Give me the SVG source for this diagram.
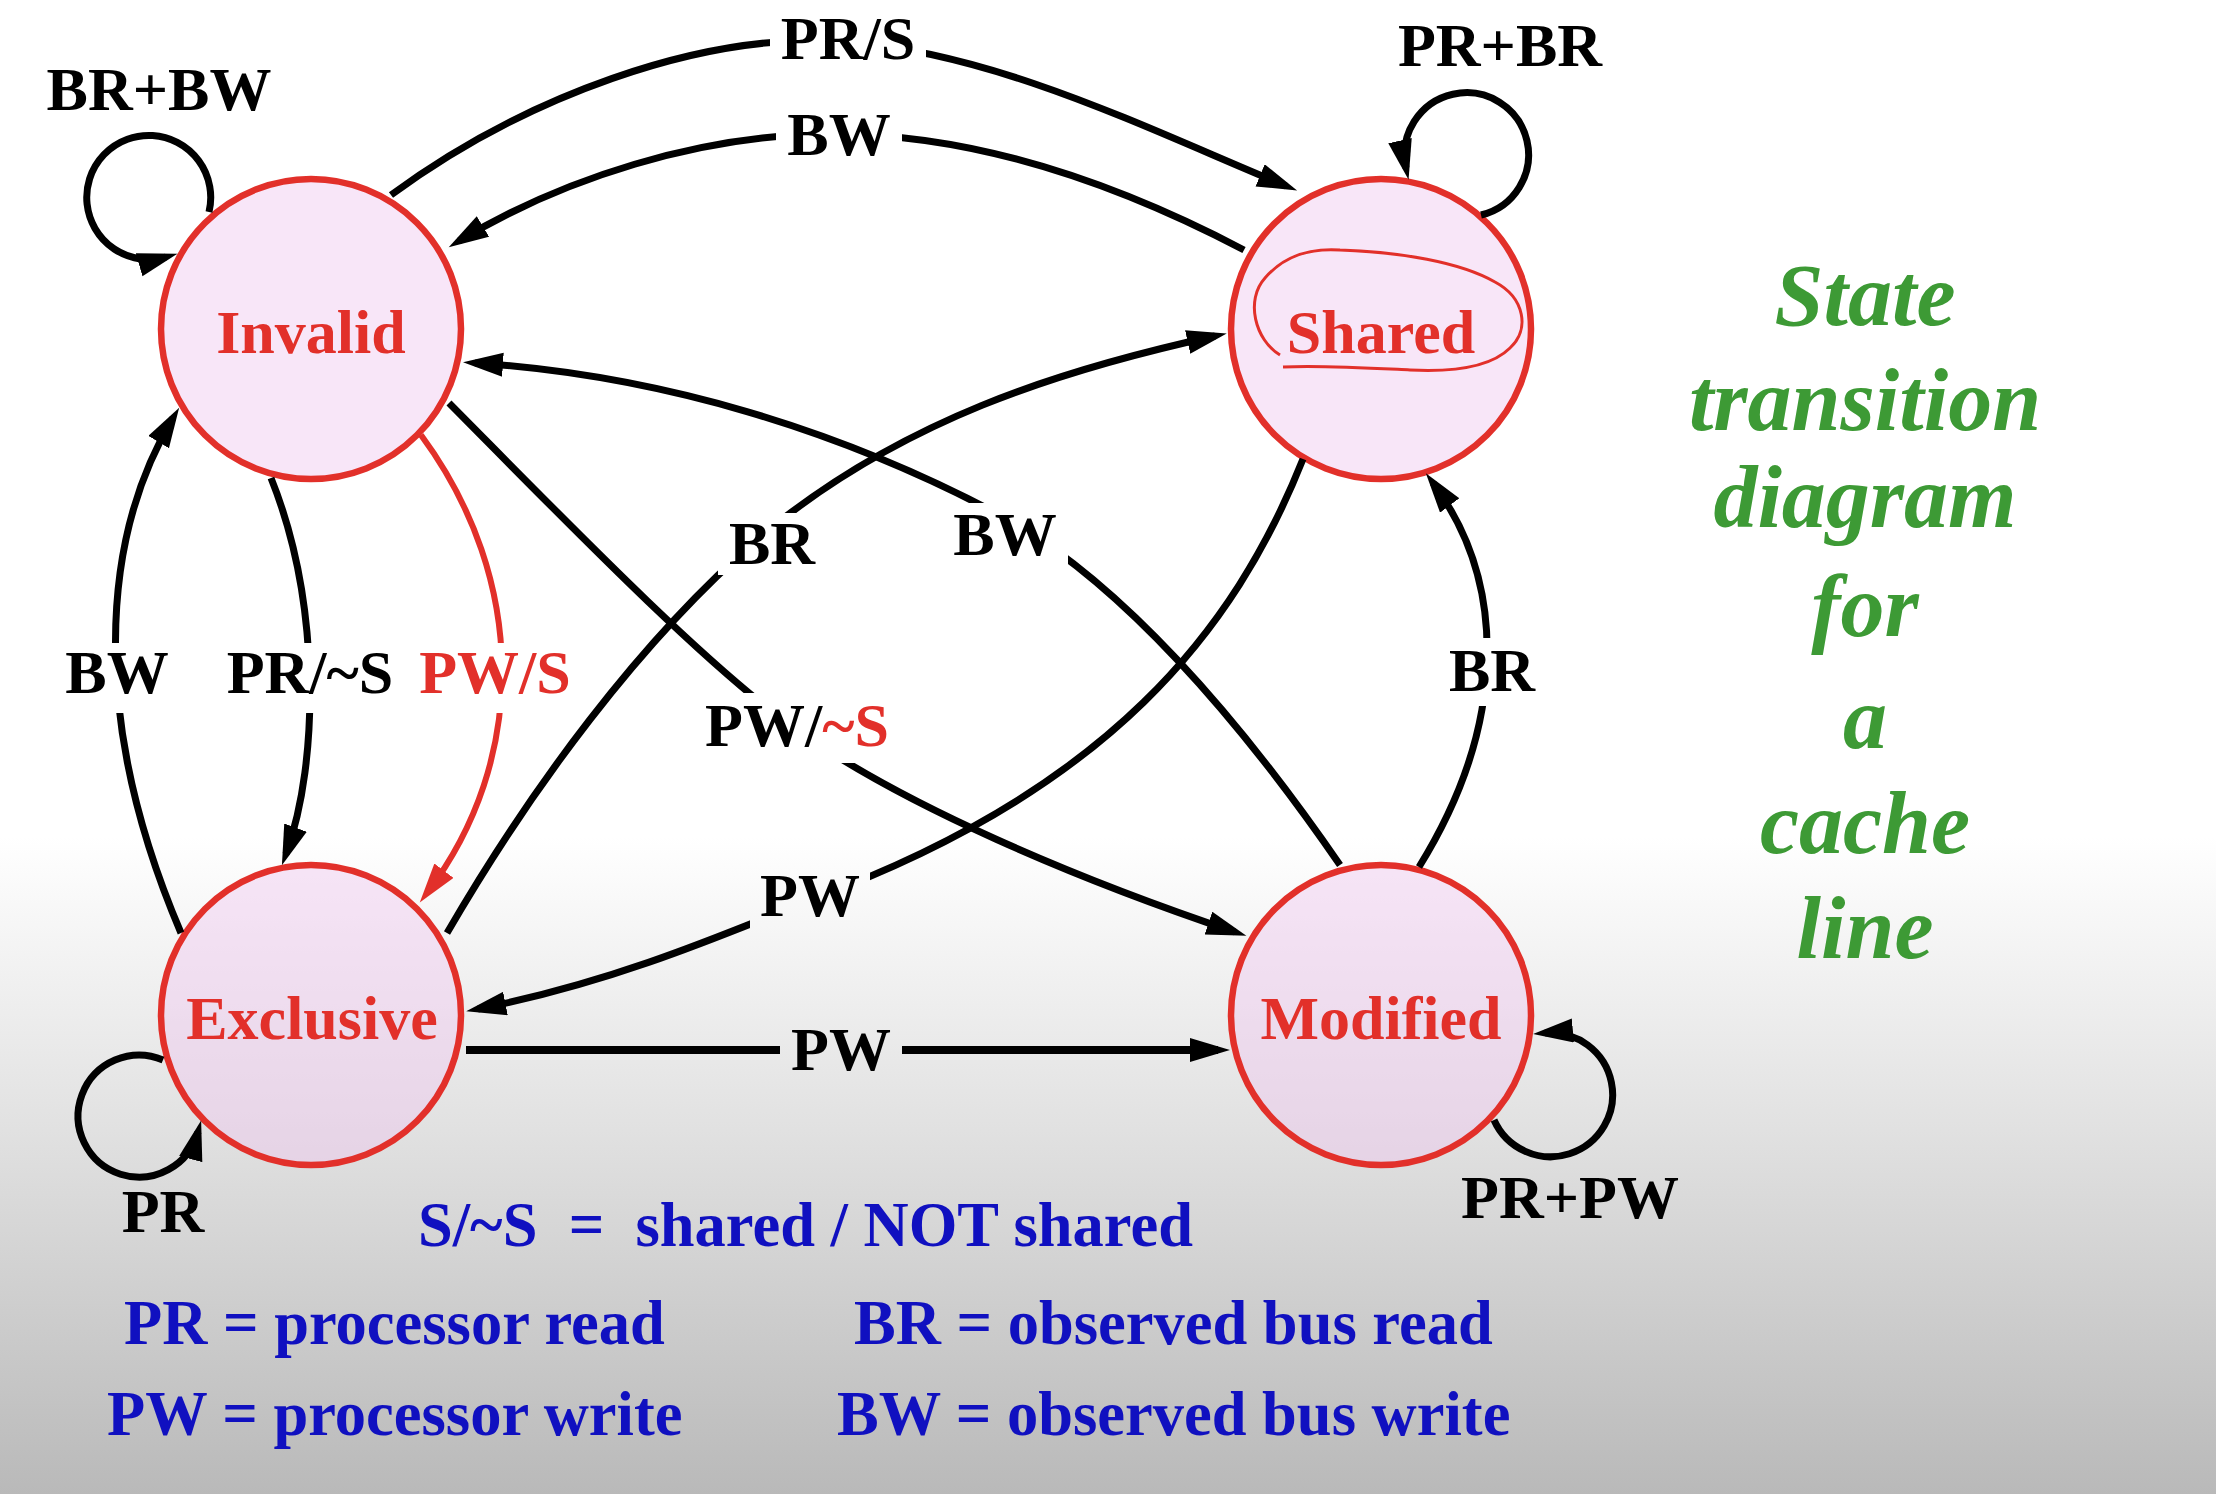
<svg xmlns="http://www.w3.org/2000/svg" width="2216" height="1494" viewBox="0 0 2216 1494">
<defs>
<linearGradient id="bg" x1="0" y1="0" x2="0" y2="1">
<stop offset="0" stop-color="#ffffff"/>
<stop offset="0.56" stop-color="#ffffff"/>
<stop offset="0.75" stop-color="#e2e2e2"/>
<stop offset="1" stop-color="#b9b9b9"/>
</linearGradient>
<marker id="arr" markerUnits="userSpaceOnUse" markerWidth="42" markerHeight="26" refX="28" refY="12" orient="auto">
<path d="M0,0 L40,12 L0,24 z" fill="#000"/>
</marker>
<marker id="arrRed" markerUnits="userSpaceOnUse" markerWidth="42" markerHeight="26" refX="28" refY="12" orient="auto">
<path d="M0,0 L40,12 L0,24 z" fill="#e2302a"/>
</marker>
<mask id="labelGaps" maskUnits="userSpaceOnUse" x="0" y="0" width="2216" height="1494">
<rect x="0" y="0" width="2216" height="1494" fill="#fff"/>
<rect x="770" y="8" width="156" height="62" fill="#000"/>
<rect x="776" y="103" width="126" height="62" fill="#000"/>
<rect x="718" y="513" width="108" height="62" fill="#000"/>
<rect x="942" y="503" width="126" height="64" fill="#000"/>
<rect x="55" y="643" width="125" height="70" fill="#000"/>
<rect x="218" y="643" width="186" height="70" fill="#000"/>
<rect x="410" y="643" width="170" height="70" fill="#000"/>
<rect x="695" y="693" width="205" height="70" fill="#000"/>
<rect x="1438" y="638" width="108" height="68" fill="#000"/>
<rect x="750" y="863" width="120" height="66" fill="#000"/>
<rect x="780" y="1018" width="122" height="64" fill="#000"/>
</mask>
<style>
.state{fill:#f0c8f0;fill-opacity:0.45;stroke:#e2302a;stroke-width:6.5}
.sname{font-family:"Liberation Serif","Times New Roman",serif;font-weight:bold;font-size:62px;fill:#e2302a;text-anchor:middle}
.edge{fill:none;stroke:#000;stroke-width:7;marker-end:url(#arr)}
.edge.red{stroke:#e2302a;stroke-width:6;marker-end:url(#arrRed)}
.edge.thick{stroke-width:8}
.lbl{font-family:"Liberation Serif","Times New Roman",serif;font-weight:bold;font-size:62px;fill:#000;text-anchor:middle}
.redt{fill:#e2302a}
.legend{font-family:"Liberation Serif","Times New Roman",serif;font-weight:bold;font-size:62.5px;fill:#1010c0}
.title{font-family:"Liberation Serif","Times New Roman",serif;font-weight:bold;font-style:italic;font-size:88px;fill:#3d9a35;text-anchor:middle}
</style>
</defs>
<rect x="0" y="0" width="2216" height="1494" fill="url(#bg)"/>

<g id="node-invalid">
<circle class="state" cx="311" cy="329" r="150"/>
<text class="sname" x="311" y="353">Invalid</text>
</g>
<g id="node-shared">
<circle class="state" cx="1381" cy="329" r="150"/>
<text class="sname" x="1381" y="353">Shared</text>
<path d="M1280,355 C1255,340 1245,300 1265,278 C1285,255 1310,248 1340,250 C1400,252 1460,262 1495,282 C1525,298 1530,330 1510,348 C1490,368 1450,372 1410,370 C1370,368 1320,365 1283,367" fill="none" stroke="#e2302a" stroke-width="3"/>
</g>
<g id="node-exclusive">
<circle class="state" cx="311" cy="1015" r="150"/>
<text class="sname" x="312" y="1039">Exclusive</text>
</g>
<g id="node-modified">
<circle class="state" cx="1381" cy="1015" r="150"/>
<text class="sname" x="1381" y="1039">Modified</text>
</g>

<g id="connectors" mask="url(#labelGaps)">
<path class="edge" d="M391,195 C520,100 700,30 848,42 C1000,54 1150,130 1286,186"/>
<path class="edge" d="M1244,250 C1120,185 980,135 838,134 C700,133 560,180 459,241"/>
<path class="edge" d="M1481,215 A62,62 0 1 0 1406,168"/>
<path class="edge" d="M209,212 A62,62 0 1 0 166,257"/>
<path class="edge" d="M181,933 C90,720 100,540 173,418"/>
<path class="edge" d="M271,478 C320,600 320,760 286,854"/>
<path class="edge red" d="M421,435 C528,580 528,760 427,893"/>
<path class="edge" d="M449,403 C560,515 700,660 790,725 C900,805 1080,880 1235,932"/>
<path class="edge" d="M447,933 C530,790 640,640 760,537 C900,420 1060,370 1215,336"/>
<path class="edge" d="M1340,865 C1240,720 1120,580 1000,515 C840,430 660,375 475,363"/>
<path class="edge" d="M1303,459 C1235,630 1110,790 810,900 C700,945 600,985 478,1009"/>
<path class="edge thick" d="M466,1050 L1218,1050"/>
<path class="edge" d="M1419,867 C1510,720 1505,580 1433,483"/>
<path class="edge" d="M163,1060 A61,61 0 1 0 198,1132"/>
<path class="edge" d="M1494,1120 A62,62 0 1 0 1545,1033"/>
</g>

<g id="edge-labels">
<text class="lbl" x="848" y="59">PR/S</text>
<text class="lbl" x="839" y="155">BW</text>
<text class="lbl" x="1500" y="66">PR+BR</text>
<text class="lbl" x="159" y="110">BR+BW</text>
<text class="lbl" x="772" y="564">BR</text>
<text class="lbl" x="1005" y="555">BW</text>
<text class="lbl" x="117" y="693">BW</text>
<text class="lbl" x="310" y="693">PR/~S</text>
<text class="lbl redt" x="495" y="693">PW/S</text>
<text class="lbl" x="797" y="746">PW/<tspan class="redt">~S</tspan></text>
<text class="lbl" x="1492" y="691">BR</text>
<text class="lbl" x="810" y="916">PW</text>
<text class="lbl" x="841" y="1070">PW</text>
<text class="lbl" x="163" y="1232">PR</text>
<text class="lbl" x="1570" y="1218">PR+PW</text>
</g>

<g id="legend">
<text class="legend" x="418" y="1246" xml:space="preserve">S/~S  =  shared / NOT shared</text>
<text class="legend" x="124" y="1344">PR = processor read</text>
<text class="legend" x="854" y="1344">BR = observed bus read</text>
<text class="legend" x="107" y="1435">PW = processor write</text>
<text class="legend" x="837" y="1435">BW = observed bus write</text>
</g>

<g id="title">
<text class="title" x="1865" y="325">State</text>
<text class="title" x="1865" y="430">transition</text>
<text class="title" x="1865" y="527">diagram</text>
<text class="title" x="1865" y="636">for</text>
<text class="title" x="1865" y="748">a</text>
<text class="title" x="1865" y="853">cache</text>
<text class="title" x="1865" y="958">line</text>
</g>
</svg>
